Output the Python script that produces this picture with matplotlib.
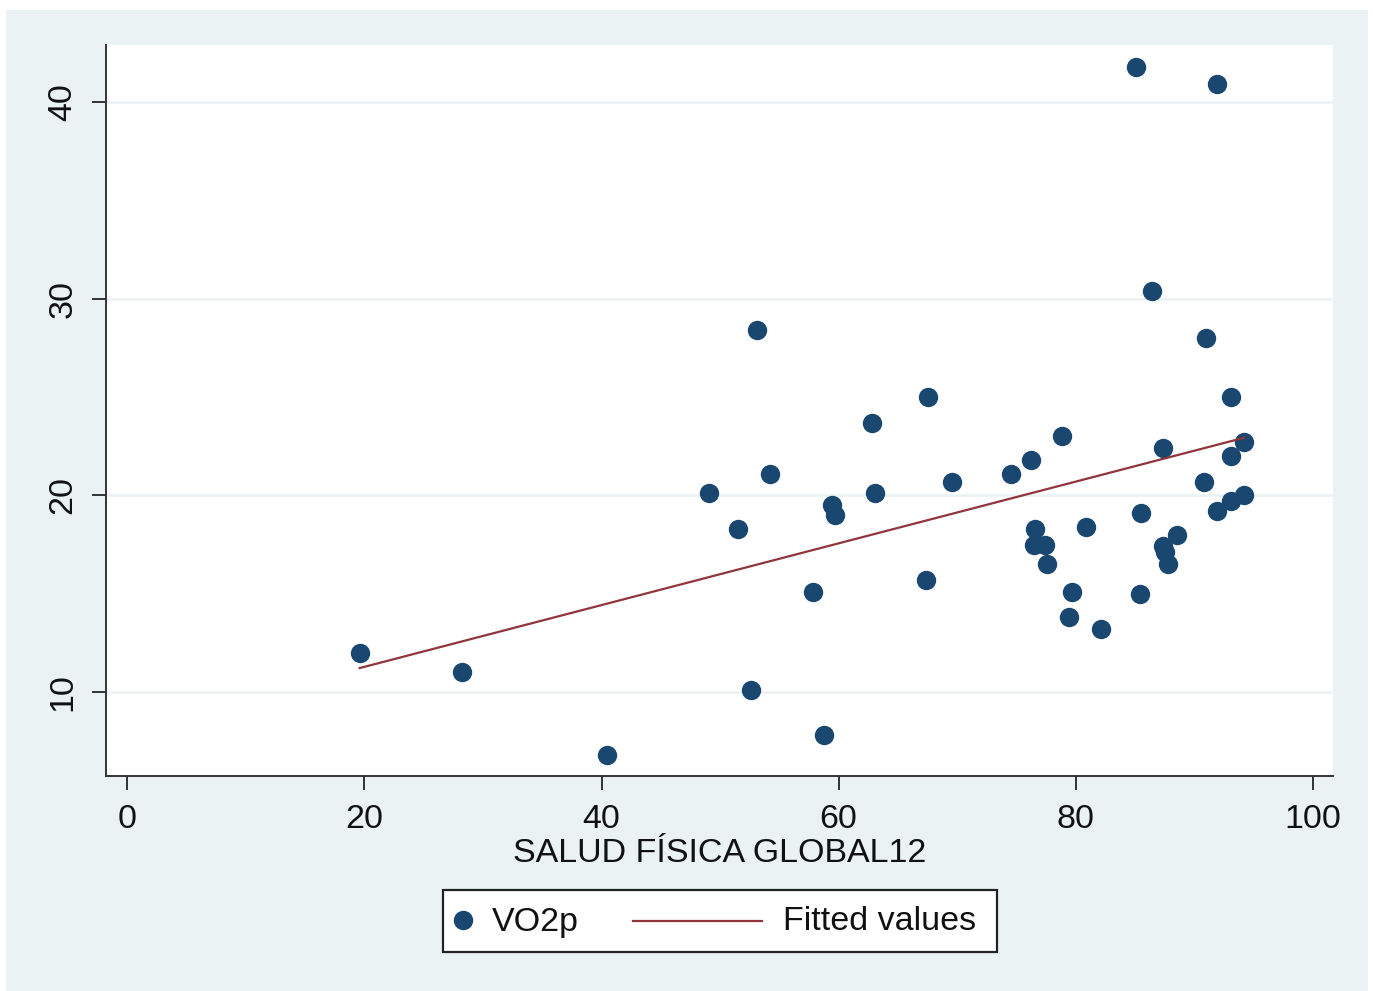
import numpy as np
import matplotlib
matplotlib.use('Agg')
import matplotlib.pyplot as plt
from matplotlib.patches import Rectangle
from matplotlib.lines import Line2D

plt.rcParams.update({'font.family': ['Liberation Sans', 'DejaVu Sans'],
                     'font.size': 24.5})

# SALUD FISICA GLOBAL12 (x) vs VO2p (y)
salud = [19.6, 28.2, 40.5, 49.1, 51.5, 53.1, 52.6, 54.2, 57.8, 58.8,
         59.4, 59.7, 62.8, 63.1, 67.5, 67.4, 69.6, 74.5, 76.2, 78.8,
         76.6, 76.5, 77.4, 77.6, 79.7, 79.4, 80.9, 82.1, 85.1, 86.4,
         87.4, 85.5, 85.4, 87.4, 87.5, 87.8, 88.5, 91.9, 91.0, 93.1,
         94.2, 93.1, 90.8, 91.9, 93.1, 94.2]
vo2p = [12.0, 11.0, 6.8, 20.1, 18.3, 28.4, 10.1, 21.1, 15.1, 7.8,
        19.5, 19.0, 23.7, 20.1, 25.0, 15.7, 20.7, 21.1, 21.8, 23.0,
        18.3, 17.5, 17.5, 16.5, 15.1, 13.8, 18.4, 13.2, 41.8, 30.4,
        22.4, 19.1, 15.0, 17.4, 17.1, 16.5, 18.0, 40.9, 28.0, 25.0,
        22.7, 22.0, 20.7, 19.2, 19.7, 20.0]

x_ticks = [0, 20, 40, 60, 80, 100]
y_ticks = [10, 20, 30, 40]

navy = '#1a476f'
maroon = '#90353b'
bg = '#eaf2f3'

W, H = 1373, 991
fig = plt.figure(figsize=(W / 100, H / 100), dpi=100, facecolor='white')
fig.patches.append(Rectangle((6 / W, 0), 1362 / W, 981 / H, transform=fig.transFigure,
                             facecolor=bg, edgecolor='none', zorder=-10))

ax = fig.add_axes([106 / W, 1 - 776 / H, 1227 / W, 731 / H])
ax.set_facecolor('white')

ax.scatter(salud, vo2p, s=195, color=navy, zorder=3, linewidths=0)

# linear fit
b, a = np.polyfit(salud, vo2p, 1)
xf = np.array([min(salud), max(salud)])
ax.plot(xf, a + b * xf, color=maroon, lw=1.6, zorder=4)

ax.set_xlim(-1.8, 101.7)
ax.set_ylim(5.73, 42.9)
ax.set_xticks(x_ticks)
ax.set_yticks(y_ticks)
ax.yaxis.grid(True, color=bg, lw=1.8)
ax.set_axisbelow(True)
for s in ['top', 'right']:
    ax.spines[s].set_visible(False)
for s in ['left', 'bottom']:
    ax.spines[s].set_color('#333333')
    ax.spines[s].set_linewidth(1.4)
ax.tick_params(length=10, width=1.4, color='#333333', pad=10, labelcolor='#111111')
plt.setp(ax.get_yticklabels(), rotation=90, va='center')
ax.set_xlabel('SALUD FÍSICA GLOBAL12', labelpad=2, color='#111111')

# legend box drawn in pixel layout like the original
def fx(px):
    return px / W

def fy(py):
    return 1 - py / H

fig.patches.append(Rectangle((fx(443), fy(952)), fx(997) - fx(443), fy(890) - fy(952),
                             transform=fig.transFigure, facecolor='white',
                             edgecolor='#222222', lw=1.6))
fig.add_artist(Line2D([fx(463)], [fy(920)], marker='o', ms=13, color=navy,
                      ls='none', transform=fig.transFigure))
fig.text(fx(492), fy(922), 'VO2p', va='center', ha='left', color='#111111')
fig.add_artist(Line2D([fx(633), fx(762)], [fy(921), fy(921)], color=maroon, lw=1.6,
                      transform=fig.transFigure))
fig.text(fx(783), fy(922), 'Fitted values', va='center', ha='left', color='#111111')

fig.savefig('out.png', dpi=100, facecolor='white')
